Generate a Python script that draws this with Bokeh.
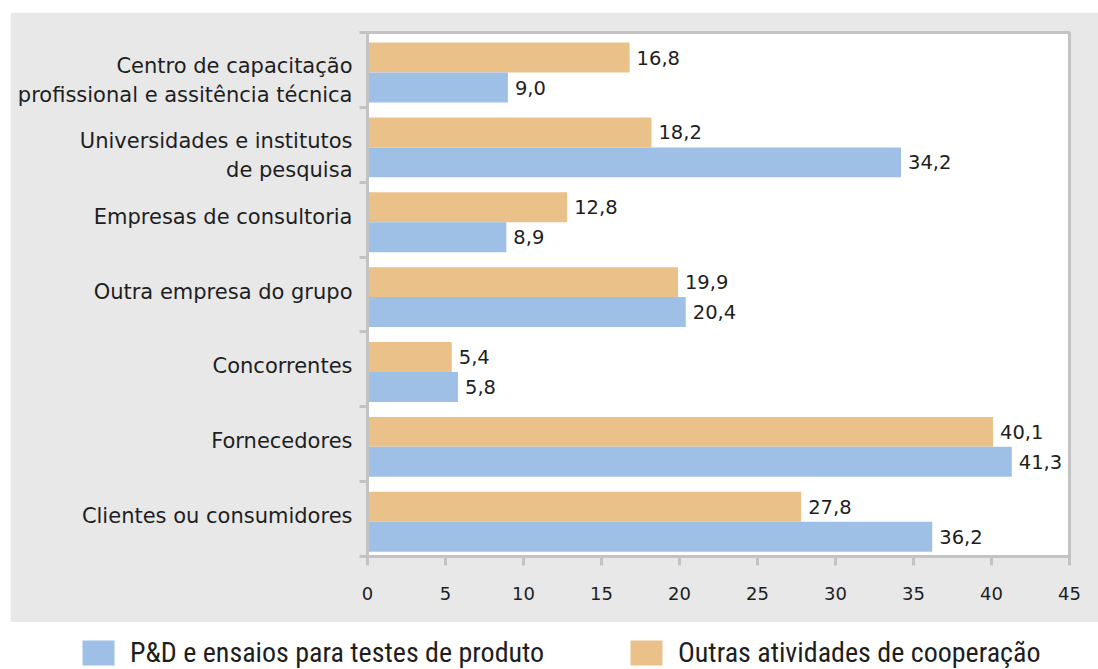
from bokeh.plotting import figure
from bokeh.models import (ColumnDataSource, FixedTicker, Label, Legend, LegendItem,
                          Spacer, Range1d)
from bokeh.layouts import column, row
from bokeh.transform import dodge
from bokeh.core.properties import value
from bokeh.embed import file_html
from bokeh.resources import INLINE

# ---------------- data ----------------
categories = [
    "Centro de capacitação\nprofissional e assitência técnica",
    "Universidades e institutos\nde pesquisa",
    "Empresas de consultoria",
    "Outra empresa do grupo",
    "Concorrentes",
    "Fornecedores",
    "Clientes ou consumidores",
]
pd_values = [9.0, 34.2, 8.9, 20.4, 5.8, 41.3, 36.2]
outras_values = [16.8, 18.2, 12.8, 19.9, 5.4, 40.1, 27.8]
series_names = ["P&D e ensaios para testes de produto", "Outras atividades de cooperação"]
x_ticks = [0, 5, 10, 15, 20, 25, 30, 35, 40, 45]
unit_label = "%"

# ---------------- styles ----------------
BLUE = "#9fc0e6"
ORANGE = "#e9c189"
PANEL = "#e8e8e8"
FRAME = "#c3c3c3"
TXT = "#1e1e1e"
FONT = "DejaVu Sans"

n = len(categories)
pos = [n - i - 0.5 for i in range(n)]  # first category on top
# label anchor: two-line labels sit a little lower, one-line a little higher
label_pos = [pv - 0.14 if "\n" in c else pv + 0.04 for pv, c in zip(pos, categories)]


def fmt(v):
    return f"{v:.1f}".replace(".", ",")


src = ColumnDataSource(dict(
    pos=pos,
    pd=pd_values,
    outras=outras_values,
    pd_lbl=[fmt(v) for v in pd_values],
    outras_lbl=[fmt(v) for v in outras_values],
))

p = figure(width=1088, height=610, toolbar_location=None, output_backend="svg",
           x_range=Range1d(0, 45), y_range=Range1d(0, n),
           min_border_left=357, min_border_right=29, min_border_top=20, min_border_bottom=66)
p.border_fill_color = PANEL
p.background_fill_color = "white"
p.outline_line_color = FRAME
p.outline_line_width = 3
p.xgrid.visible = False
p.ygrid.visible = False

ORANGE_OFF = 0.165
BLUE_OFF = -0.235
BAR_H = 0.4

r_or = p.hbar(y=dodge("pos", ORANGE_OFF), left=0, right="outras", height=BAR_H, source=src,
              fill_color=ORANGE, line_color=None)
r_bl = p.hbar(y=dodge("pos", BLUE_OFF), left=0, right="pd", height=BAR_H, source=src,
              fill_color=BLUE, line_color=None)

p.text(x="outras", y=dodge("pos", ORANGE_OFF), text="outras_lbl", source=src,
       x_offset=7, text_baseline="middle", text_align="left",
       text_font=value(FONT), text_font_size="19.5px", text_color=TXT)
p.text(x="pd", y=dodge("pos", BLUE_OFF), text="pd_lbl", source=src,
       x_offset=7, text_baseline="middle", text_align="left",
       text_font=value(FONT), text_font_size="19.5px", text_color=TXT)

# x axis
xa = p.xaxis[0]
xa.ticker = FixedTicker(ticks=x_ticks)
xa.axis_line_color = FRAME
xa.axis_line_width = 3
xa.major_tick_line_color = FRAME
xa.major_tick_line_width = 3
xa.major_tick_out = 9
xa.major_tick_in = 0
xa.minor_tick_line_color = None
xa.major_label_text_font = FONT
xa.major_label_text_font_size = "18px"
xa.major_label_text_color = TXT
xa.major_label_standoff = 21

# y axis
ya = p.yaxis[0]
ya.ticker = FixedTicker(ticks=label_pos, minor_ticks=list(range(n + 1)))
ya.major_label_overrides = {lp: c for lp, c in zip(label_pos, categories)}
ya.axis_line_color = FRAME
ya.axis_line_width = 3
ya.major_tick_line_color = None
ya.major_tick_out = 0
ya.major_tick_in = 0
ya.minor_tick_line_color = FRAME
ya.minor_tick_line_width = 3
ya.minor_tick_out = 8
ya.minor_tick_in = 0
ya.major_label_text_font = FONT
ya.major_label_text_font_size = "21px"
ya.major_label_text_color = TXT
ya.major_label_standoff = 7

p.add_layout(Label(x=45, y=pos[-1], x_offset=14, text=unit_label, text_baseline="middle",
                   text_font=FONT, text_font_size="19px", text_color=TXT))

# ---------------- legend figure ----------------
lf = figure(width=1098, height=47, toolbar_location=None, output_backend="svg",
            x_axis_location=None, y_axis_location=None, min_border=0,
            x_range=Range1d(0, 1), y_range=Range1d(0, 1))
lf.outline_line_color = None
lf.background_fill_color = "white"
lf.border_fill_color = "white"
lf.xgrid.visible = False
lf.ygrid.visible = False
# zero-width proxies: only their legend swatches are visible
lr_bl = lf.hbar(y="pos", left=0, right=0, height=0.1, source=src, fill_color=BLUE, line_color=None)
lr_or = lf.hbar(y="pos", left=0, right=0, height=0.1, source=src, fill_color=ORANGE, line_color=None)

LEG_FONT = "Liberation Sans Narrow, Roboto Condensed, Arial Narrow, Roboto"
for name, rend, lx in [(series_names[0], lr_bl, 78), (series_names[1], lr_or, 626)]:
    leg = Legend(items=[LegendItem(label=name, renderers=[rend], index=0)], location=(lx, 0),
                 orientation="horizontal", padding=0, margin=0, glyph_width=40, glyph_height=31,
                 label_standoff=12, label_text_font=LEG_FONT, label_text_font_size="28px",
                 label_text_color=TXT, border_line_color=None, background_fill_alpha=0,
                 label_text_baseline="middle")
    lf.add_layout(leg)

layout = column(Spacer(height=12), row(Spacer(width=10), p), lf)

with open("out.html", "w") as f:
    f.write(file_html(layout, INLINE))
